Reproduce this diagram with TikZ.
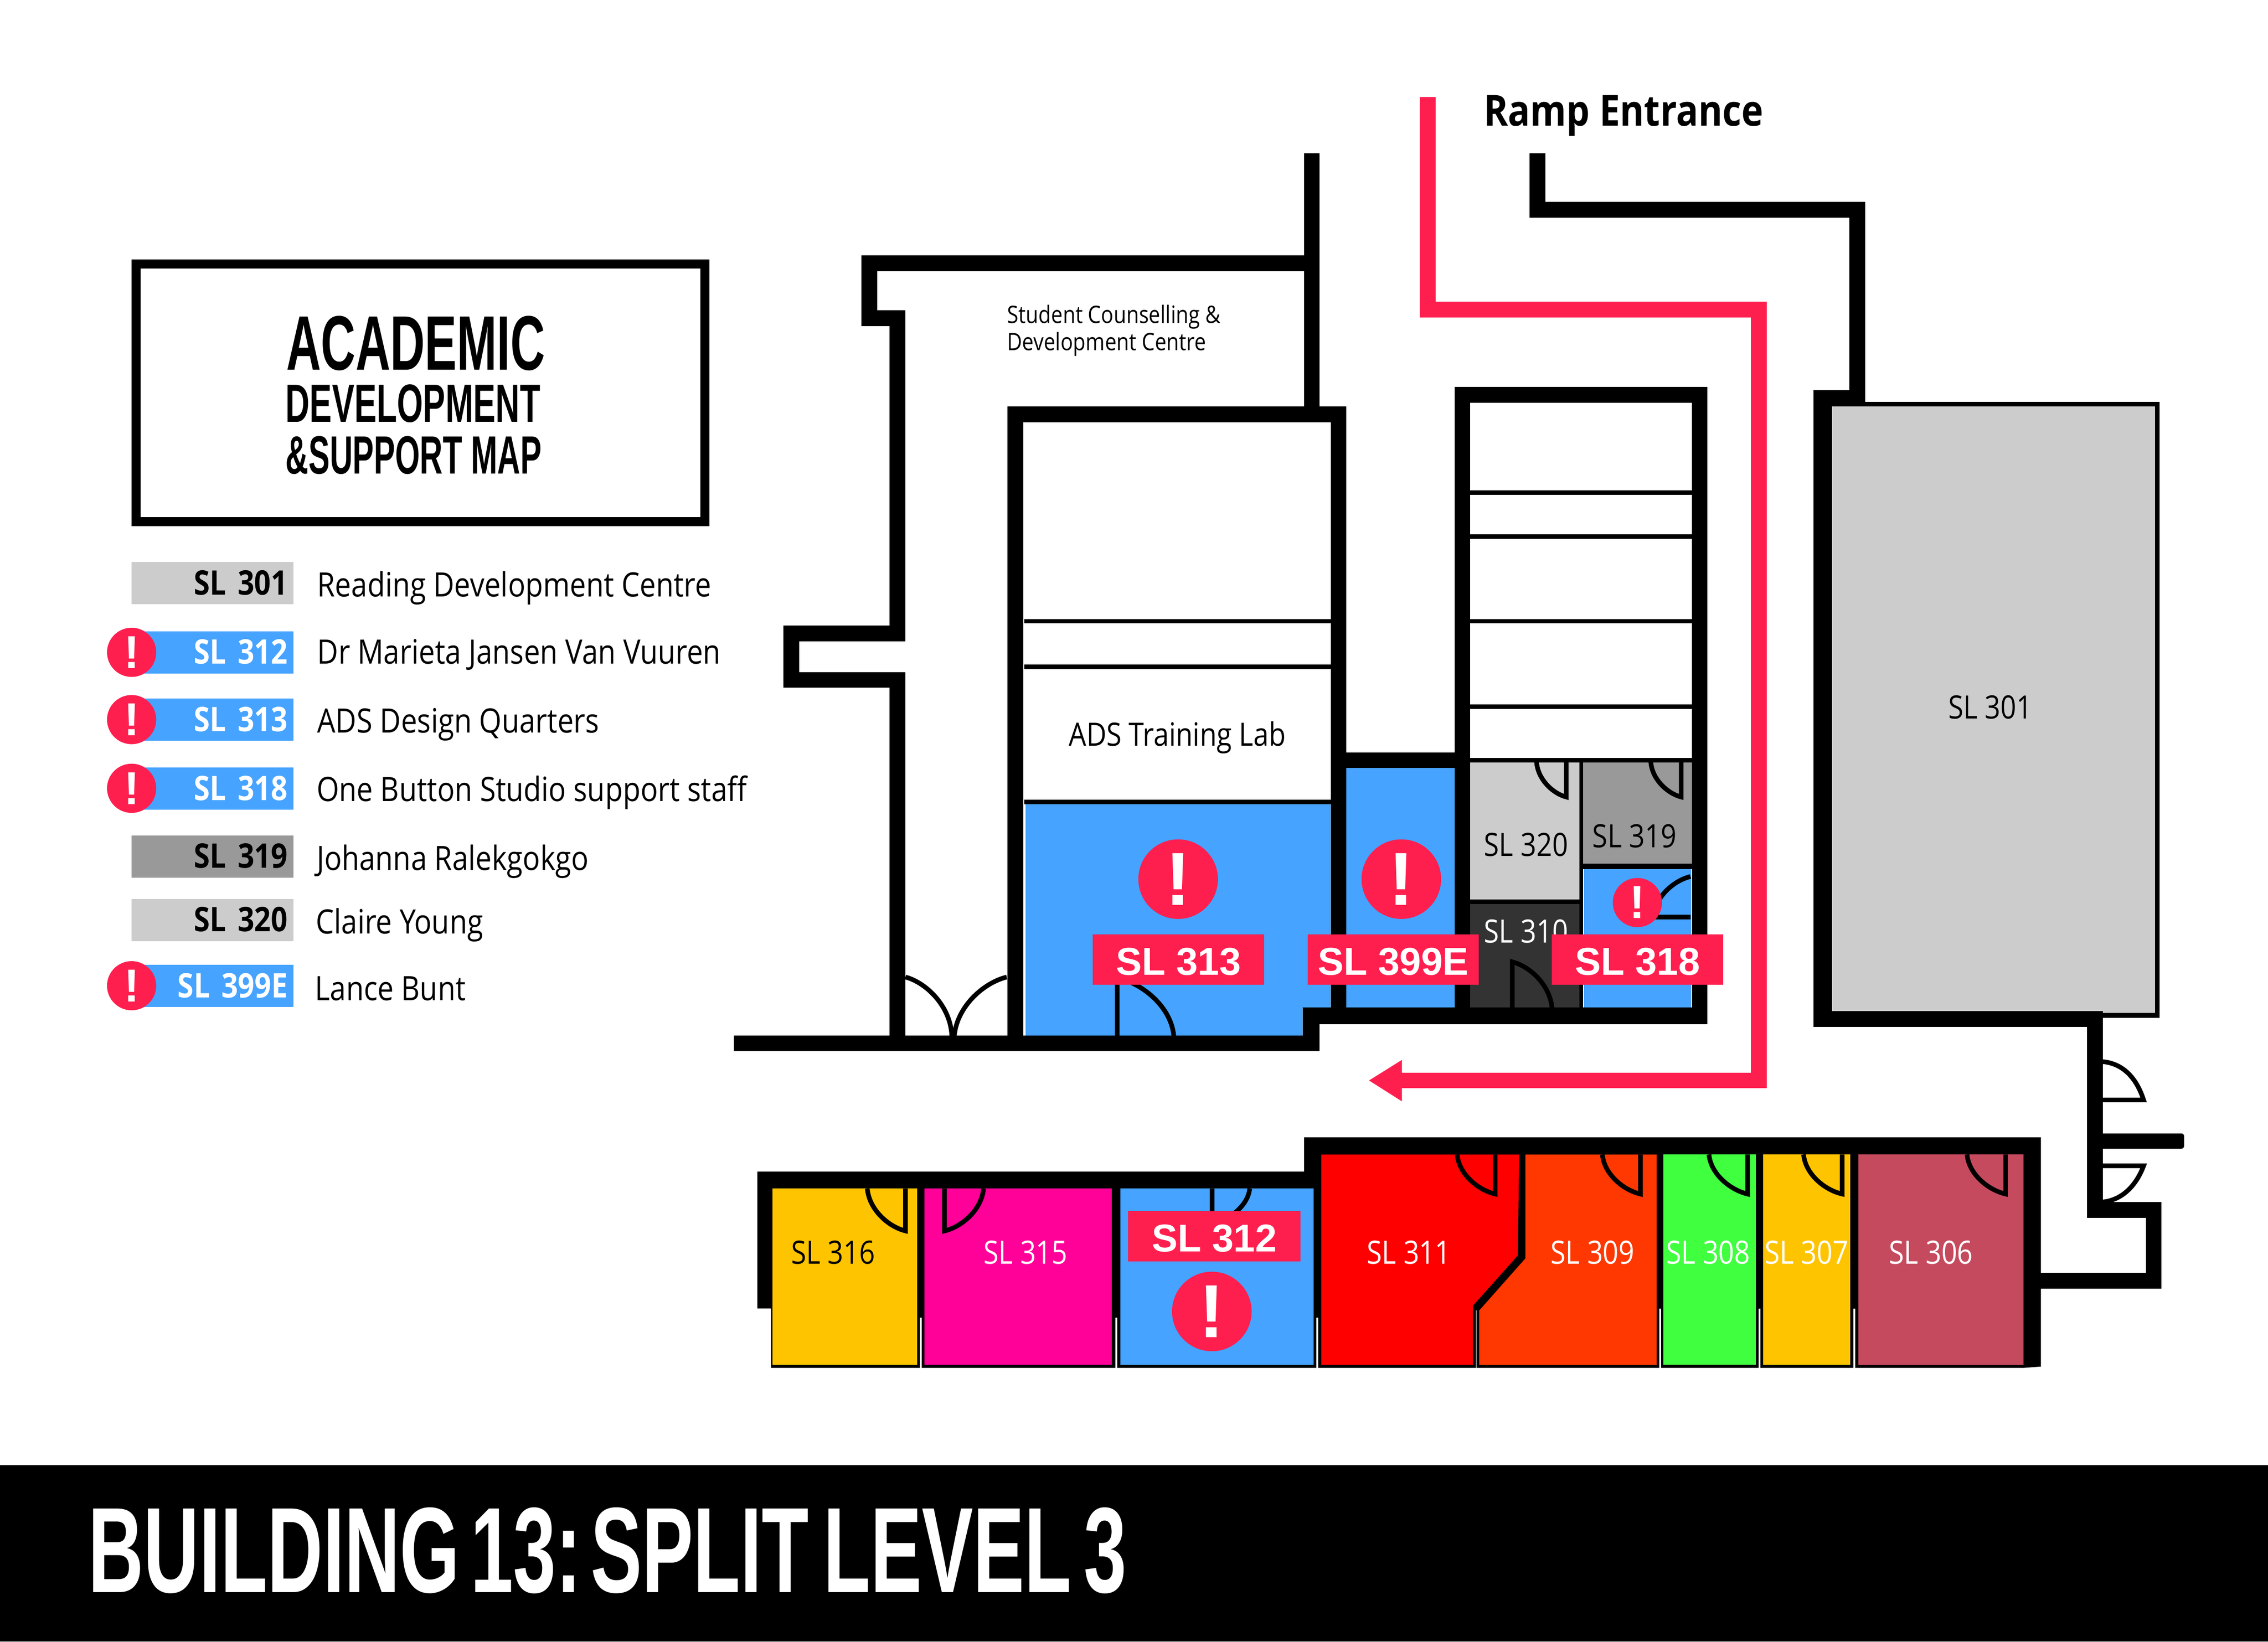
\documentclass[tikz,border=0pt]{standalone}
\usepackage{fontspec}
\setmainfont{Open Sans}[FakeStretch=0.86]
\newfontfamily\headfont{Liberation Sans}[FakeStretch=0.622]
\newfontfamily\bannerfont{Liberation Sans}[FakeStretch=0.633,WordSpace=0.5]
\newfontfamily\tagfont{Liberation Sans}
\definecolor{adsblue}{HTML}{46A3FF}
\definecolor{alertred}{HTML}{FF1F4F}
\definecolor{palegrey}{HTML}{CCCCCC}
\definecolor{midgrey}{HTML}{999999}
\definecolor{darkgrey}{HTML}{333333}
\definecolor{roomyellow}{HTML}{FFC400}
\definecolor{roompink}{HTML}{FF0099}
\definecolor{roomred}{HTML}{FF0000}
\definecolor{roomorange}{HTML}{FF3700}
\definecolor{roomgreen}{HTML}{3FFF3F}
\definecolor{roomrose}{HTML}{C64A5E}
\begin{document}
\begin{tikzpicture}[x=0.5pt,y=-0.5pt,
    wall/.style={line width=5.4pt,line join=miter},
    partition/.style={line width=1.5pt},
    door/.style={line width=1.6pt,line join=miter,miter limit=12},
    gapline/.style={white,line width=0.6pt},
    roomlabel/.style={font=\fontsize{11.1}{12}\selectfont},
    swatch/.style={anchor=east,minimum width=56pt,minimum height=14.6pt,inner sep=0pt,inner xsep=2pt,align=right,text width=52pt,text height=10.1pt,text depth=2pt,font=\bfseries\fontsize{11.7}{12}\selectfont},
    legendtext/.style={anchor=west,inner sep=0pt,font=\fontsize{11.6}{12}\selectfont},
    alertbig/.style={circle,fill=alertred,minimum size=27.5pt,inner sep=0pt,text=white,font=\tagfont\bfseries\fontsize{26}{26}\selectfont},
    alertsmall/.style={circle,fill=alertred,minimum size=17pt,inner sep=0pt,text=white,font=\tagfont\bfseries\fontsize{16}{16}\selectfont},
    redtag/.style={fill=alertred,text=white,minimum width=59.2pt,minimum height=17.4pt,inner sep=0pt,text height=10.6pt,text depth=0pt,font=\tagfont\bfseries\fontsize{13.4}{14}\selectfont}]
   \useasboundingbox (0,0) rectangle (1568,1135);

   \draw[line width=3.15pt] (94,182.6) rectangle (487.4,360.5);
   \node[inner sep=0pt,font=\headfont\bfseries\fontsize{26.7}{26.7}\selectfont] (titleA) at (287.4,237.3) {ACADEMIC};
   \node[inner sep=0pt,font=\headfont\bfseries\fontsize{18.6}{18.6}\selectfont] (titleB) at (285.5,279) {DEVELOPMENT};
   \node[inner sep=0pt,font=\headfont\bfseries\fontsize{18.6}{18.6}\selectfont] (titleC) at (286,314.8) {\scalebox{0.95}[1]{\&SUPPORT MAP}};

   \node[swatch,fill=palegrey] (key301) at (203.2,403.2) {SL 301};
   \node[swatch,fill=adsblue,text=white] (key312) at (203.2,451) {SL 312};
   \node[swatch,fill=adsblue,text=white] (key313) at (203.2,497.6) {SL 313};
   \node[swatch,fill=adsblue,text=white] (key318) at (203.2,545.2) {SL 318};
   \node[swatch,fill=midgrey] (key319) at (203.2,592.1) {SL 319};
   \node[swatch,fill=palegrey] (key320) at (203.2,636) {SL 320};
   \node[swatch,fill=adsblue,text=white] (key399) at (203.2,681.5) {SL 399E};
   \node[alertsmall] (alert312) at (91,451) {!};
   \node[alertsmall] (alert313) at (91,497.5) {!};
   \node[alertsmall] (alert318) at (91,545) {!};
   \node[alertsmall] (alert399) at (91,681.5) {!};
   \node[legendtext] (name301) at (219,406.5) {Reading Development Centre};
   \node[legendtext] (name312) at (219,452.5) {Dr Marieta Jansen Van Vuuren};
   \node[legendtext] (name313) at (219,501) {ADS Design Quarters};
   \node[legendtext] (name318) at (218.5,548) {One Button Studio support staff};
   \node[legendtext] (name319) at (218.5,595.5) {Johanna Ralekgokgo};
   \node[legendtext] (name320) at (218,639.5) {Claire Young};
   \node[legendtext] (name399) at (217.5,683.5) {Lance Bunt};

   \fill[adsblue] (709,556) -- (920,556) -- (920,697) -- (900.5,697) -- (900.5,716) -- (709,716) -- cycle;
   \fill[adsblue] (929,529) rectangle (1007,699);
   \fill[palegrey] (1016,527) rectangle (1092,622);
   \fill[midgrey] (1094.5,527) rectangle (1170,597);
   \fill[adsblue] (1095,601) rectangle (1169,697);
   \fill[darkgrey] (1016,625) rectangle (1092,697);
   \fill[palegrey,draw=black,line width=1.6pt] (1265,279.5) rectangle (1491.5,702);

   \draw[wall] (907,106) -- (907,284);
   \draw[wall] (907,182) -- (601,182) -- (601,220) -- (620.5,220) -- (620.5,438) -- (547,438) -- (547,470) -- (620.5,470) -- (620.5,718);
   \draw[wall] (702,718) -- (702,286.5) -- (925.5,286.5) -- (925.5,702);
   \draw[wall] (1011,702) -- (1011,273) -- (1175,273) -- (1175,702);
   \draw[wall] (925,525.5) -- (1011,525.5);
   \fill (507.4,716) rectangle (912.4,726.5);
   \fill (900.5,696.5) rectangle (1180.5,708);
   \fill (900.5,696.5) rectangle (912.4,726.5);
   \draw[wall] (1063,106) -- (1063,145) -- (1284,145) -- (1284,275) -- (1259,275) -- (1259,704.5) -- (1448.3,704.5) -- (1448.3,836.5) -- (1489,836.5) -- (1489,885.5) -- (1405,885.5);
   \fill[rounded corners=1pt] (1445,783.6) rectangle (1510,794.2);

   \draw[partition] (708,429.5) -- (920,429.5);
   \draw[partition] (708,461) -- (920,461);
   \draw[partition] (708,554.5) -- (920,554.5);
   \draw[partition] (1016,340.5) -- (1170,340.5);
   \draw[partition] (1016,371) -- (1170,371);
   \draw[partition] (1016,429.5) -- (1170,429.5);
   \draw[partition] (1016,488.5) -- (1170,488.5);
   \draw[partition] (1016,525.5) -- (1170,525.5);
   \fill (1092,527) rectangle (1094.5,697);
   \fill (1016,622) rectangle (1092,625);
   \fill (1094.5,597) rectangle (1170,601);

   \fill (523.6,810) -- (901.6,810) -- (901.6,786.3) -- (1411,786.3) -- (1411,944.8) -- (1399,945.7) -- (533,945.7) -- (533,904.6) -- (523.6,904.6) -- cycle;
   \fill[roomyellow] (534.2,821.7) rectangle (634,943.7);
   \fill[roompink] (639.2,821.7) rectangle (768.7,943.7);
   \fill[adsblue] (774.7,821.7) rectangle (908.2,943.7);
   \fill[roomred] (913.5,798.2) -- (1050.3,798.2) -- (1049.3,868) -- (1018.4,902.6) -- (1018.4,943.7) -- (913.5,943.7) -- cycle;
   \fill[roomorange] (1054.6,798.2) -- (1145.4,798.2) -- (1145.4,943.7) -- (1022.7,943.7) -- (1022.7,906) -- (1054.6,870) -- cycle;
   \fill[roomgreen] (1150,798.2) rectangle (1214,943.7);
   \fill[roomyellow] (1218.8,798.2) rectangle (1279,943.7);
   \fill[roomrose] (1284.8,798.2) rectangle (1399,943.7);
   \draw[gapline] (636.6,911) -- (636.6,945.7);
   \draw[gapline] (771.7,911) -- (771.7,945.7);
   \draw[gapline] (910.8,911) -- (910.8,945.7);
   \draw[gapline,line width=0.2pt] (1020.6,906) -- (1020.6,945.7);
   \draw[gapline] (1147.7,904.6) -- (1147.7,945.7);
   \draw[gapline] (1216.4,904.6) -- (1216.4,945.7);
   \draw[gapline] (1281.9,904.6) -- (1281.9,945.7);

   \draw[door] (626,675.5) .. controls (640.8,679.5) and (657.2,696) .. (658,716);
   \draw[door] (696,675.5) .. controls (679.8,679.5) and (661.6,696) .. (659.8,716);
   \draw[door] (772.4,716) -- (772.4,676) .. controls (790,680) and (809.5,696) .. (811.5,716);
   \draw[door] (1045.5,697) -- (1045.5,665) .. controls (1057.9,668.2) and (1071.6,681) .. (1073,697);
   \draw[door] (1168.7,606) .. controls (1157.1,608.8) and (1144.3,620) .. (1143,634) -- (1168.7,634);
   \draw[door] (1082.8,527) -- (1082.8,551) .. controls (1073.6,548.6) and (1063.3,539) .. (1062.3,527);
   \draw[door] (1162.3,527) -- (1162.3,551) .. controls (1152.9,548.6) and (1142.3,539) .. (1141.3,527);
   \draw[door] (1453.7,734) .. controls (1465,735) and (1476,742) .. (1482,760.5) -- (1453.7,760.5);
   \draw[door] (1453.7,806) -- (1482,806) .. controls (1476,822) and (1465,830) .. (1453.7,831);
   \draw[door] (626,821.7) -- (626,851) .. controls (614.1,848.1) and (600.9,836.3) .. (599.6,821.7);
   \draw[door] (653,821.7) -- (653,851) .. controls (665.2,848.1) and (678.7,836.3) .. (680,821.7);
   \draw[door] (838,821.7) -- (838,846) .. controls (849.7,843.6) and (862.7,833.9) .. (864,821.7);
   \draw[door] (1033.7,798.2) -- (1033.7,825.5) .. controls (1021.9,822.8) and (1008.7,811.9) .. (1007.4,798.2);
   \draw[door] (1134.1,798.2) -- (1134.1,825.5) .. controls (1122.3,822.8) and (1109.1,811.9) .. (1107.8,798.2);
   \draw[door] (1208.2,798.2) -- (1208.2,825.5) .. controls (1196.4,822.8) and (1182.8,811.9) .. (1181.5,798.2);
   \draw[door] (1273.6,798.2) -- (1273.6,825.5) .. controls (1261.6,822.8) and (1248.2,811.9) .. (1246.9,798.2);
   \draw[door] (1386.6,798.2) -- (1386.6,825.5) .. controls (1374.6,822.8) and (1361.2,811.9) .. (1359.9,798.2);

   \draw[alertred,line width=5.4pt,line join=miter] (987,67) -- (987,214) -- (1216,214) -- (1216,747) -- (968,747);
   \fill[alertred] (969.2,732.8) -- (946.5,747) -- (969.2,761.4) -- cycle;

   \node[font=\bfseries\fontsize{14.8}{15}\selectfont] (ramp) at (1122.5,80) {Ramp Entrance};
   \node[anchor=west,inner sep=0pt,align=left,font=\fontsize{8.3}{9.5}\selectfont] (counselling) at (696,228.5) {Student Counselling \&\\Development Centre};
   \node[roomlabel] (adslab) at (814,510) {ADS Training Lab};
   \node[roomlabel] (room301) at (1376,489) {SL 301};
   \node[roomlabel] (room320) at (1055,584) {SL 320};
   \node[roomlabel] (room319) at (1130,578) {SL 319};
   \node[roomlabel,text=white] (room310) at (1055,644) {SL 310};
   \node[roomlabel] (room316) at (576,866) {SL 316};
   \node[roomlabel,text=white] (room315) at (709,866) {SL 315};
   \node[roomlabel,text=white] (room311) at (974,866) {SL 311};
   \node[roomlabel,text=white] (room309) at (1101,866) {SL 309};
   \node[roomlabel,text=white] (room308) at (1181,866) {SL 308};
   \node[roomlabel,text=white] (room307) at (1249,866) {SL 307};
   \node[roomlabel,text=white] (room306) at (1335,866) {SL 306};

   \node[alertbig] (flag313) at (814.5,607.8) {!};
   \node[alertbig] (flag399) at (968.8,607.8) {!};
   \node[alertbig] (flag312) at (837.8,906.7) {!};
   \node[alertsmall] (flag318) at (1132,624) {!};
   \node[redtag] (tag313) at (814.8,663.4) {SL 313};
   \node[redtag] (tag399) at (963.2,663.4) {SL 399E};
   \node[redtag] (tag318) at (1132.1,663.4) {SL 318};
   \node[redtag,minimum width=59.5pt] (tag312) at (839.5,854.8) {SL 312};

   \fill (0,1013) rectangle (1568,1135);
   \node[anchor=west,inner sep=0pt,text=white,font=\bannerfont\bfseries\fontsize{42}{42}\selectfont] (banner) at (60.5,1072) {BUILDING 13:\hspace{-3pt} SPLIT\hspace{1.5pt} LEVEL\hspace{0.5pt} 3};
\end{tikzpicture}
\end{document}
